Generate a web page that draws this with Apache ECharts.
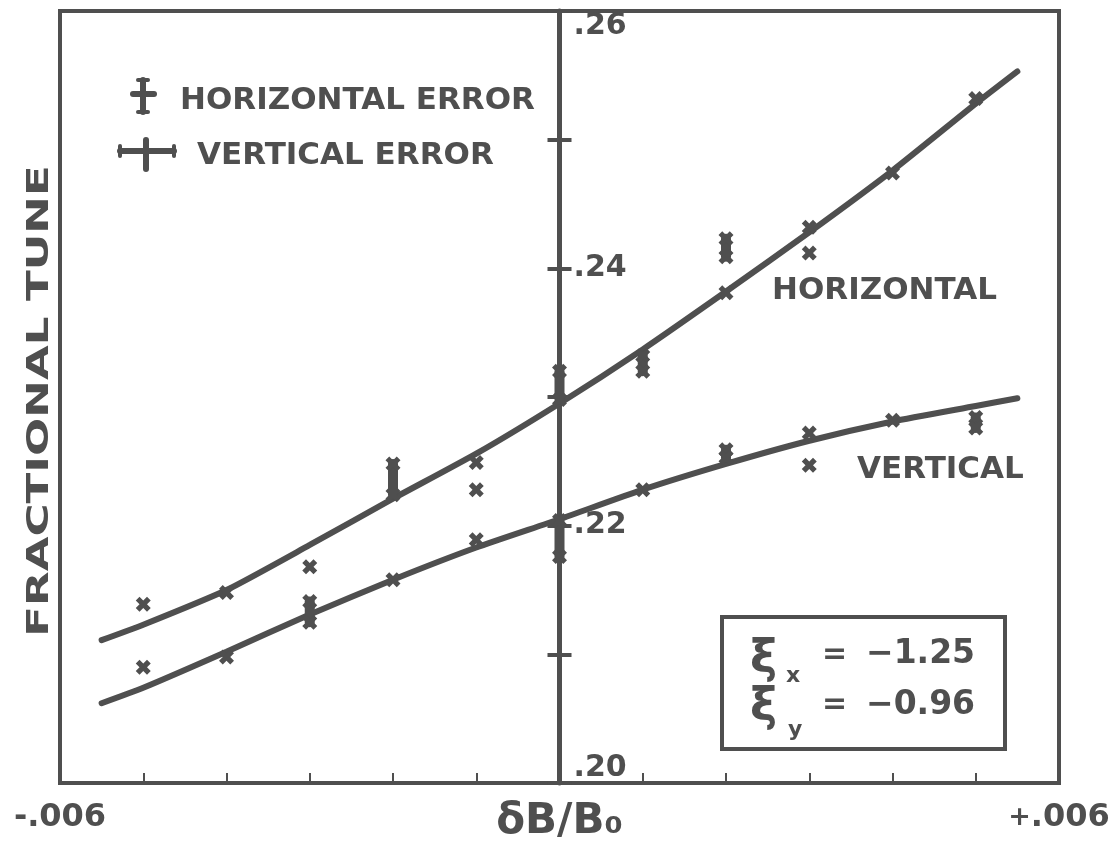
<!DOCTYPE html>
<html><head><meta charset="utf-8">
<script src="https://cdn.jsdelivr.net/npm/echarts@6/dist/echarts.min.js"></script>
<style>html,body{margin:0;padding:0;background:#fff}#c{width:1111px;height:859px}</style>
</head><body><div id="c"></div>
<script>
// ---- data ----
const fitX = [-0.0055,-0.005,-0.004,-0.003,-0.002,-0.001,0,0.001,0.002,0.003,0.004,0.005,0.0055];
const horizFit = [0.2111,0.2123,0.2150,0.2185,0.2221,0.2256,0.2295,0.2337,0.2382,0.2428,0.2476,0.2528,0.2553];
const vertFit  = [0.2062,0.2074,0.2102,0.2131,0.2158,0.2183,0.2205,0.2228,0.2248,0.2266,0.2281,0.2293,0.2299];

const horizX   = [-0.005,-0.004,-0.003,-0.002,-0.001,-0.001,0,0.001,0.002,0.002,0.003,0.003,0.004,0.005];
const horizY   = [0.2139,0.2148,0.2168,0.2236,0.2249,0.2228,0.2309,0.2326,0.2381,0.2416,0.2432,0.2412,0.2474,0.2532];
const horizErr = [0,0,0,0.0012,0,0,0.0011,0.0006,0,0.0007,0,0,0,0];

const vertX    = [-0.005,-0.004,-0.003,-0.002,-0.001,0,0.001,0.002,0.003,0.003,0.004,0.005];
const vertY    = [0.2090,0.2098,0.2133,0.2158,0.2189,0.2190,0.2228,0.2256,0.2272,0.2247,0.2282,0.2280];
const vertErr  = [0,0,0.0008,0,0,0.0014,0,0.0003,0,0,0,0.0004];

const yTickValues = [0.20,0.22,0.24,0.26];
const yTickLabels = ['.20','.22','.24','.26'];
const xEndLabels  = ['-.006','+.006'];
const xMin = -0.006, xMax = 0.006, yMin = 0.20, yMax = 0.26;
const chromaLabels = ['−1.25','−0.96'];

// ---- styles ----
const INK = '#4f4f4f';
const XPATH = 'M0,3 L3,0 L6,3 L9,0 L12,3 L9,6 L12,9 L9,12 L6,9 L3,12 L0,9 L3,6 Z';
const GRID = {left:60, right:52, top:11, bottom:76};
const centerOffset = -(1111 - GRID.left - GRID.right) / 2;

function zip(xs, ys){ return xs.map((x,i)=>[x, ys[i]]); }
function zip3(xs, ys, es){ return xs.map((x,i)=>[x, ys[i], es[i]]); }

function renderPoint(params, api){
  const x = api.value(0), y = api.value(1), e = api.value(2);
  const s = 15;
  const mk = (p) => ({type:'path', shape:{pathData:XPATH, x:p[0]-s/2, y:p[1]-s/2, width:s, height:s}, style:{fill:INK}});
  if (e > 0) {
    const a = api.coord([x, y+e]), b = api.coord([x, y-e]);
    return {type:'group', children:[
      {type:'line', shape:{x1:a[0], y1:a[1], x2:b[0], y2:b[1]}, style:{stroke:INK, lineWidth:10, lineCap:'round'}},
      mk(a), mk(b)
    ]};
  }
  return mk(api.coord([x, y]));
}

const chart = echarts.init(document.getElementById('c'));
const lbl = 'bold 31px "DejaVu Sans"';
chart.setOption({
  backgroundColor:'#fff',
  animation:false,
  grid:Object.assign({show:true, borderColor:INK, borderWidth:4, backgroundColor:'transparent', outerBoundsMode:'none', containLabel:false}, GRID),
  xAxis:{
    type:'value', min:xMin, max:xMax, interval:0.001,
    axisLine:{onZero:false, lineStyle:{color:INK, width:4}},
    axisTick:{inside:true, length:10, lineStyle:{color:INK, width:2}},
    splitLine:{show:false},
    axisLabel:{
      showMinLabel:true, showMaxLabel:true, margin:19, color:INK,
      fontFamily:'DejaVu Sans', fontWeight:'bold', fontSize:32,
      rich:{s:{fontFamily:'DejaVu Sans', fontWeight:'bold', fontSize:27, color:INK}},
      formatter:(v)=> Math.abs(v-xMin)<1e-9 ? xEndLabels[0]
                   : (Math.abs(v-xMax)<1e-9 ? '{s|' + xEndLabels[1].charAt(0) + '}' + xEndLabels[1].slice(1) : '')
    },
    name:'δB/B₀', nameLocation:'middle', nameGap:18, nameMoveOverlap:false,
    nameTextStyle:{color:INK, fontFamily:'DejaVu Sans', fontWeight:'bold', fontSize:42, verticalAlign:'top'}
  },
  yAxis:[{
    type:'value', min:yMin, max:yMax, interval:0.01, position:'left', offset:centerOffset,
    axisLine:{onZero:false, lineStyle:{color:INK, width:5}},
    axisTick:{inside:true, length:12, lineStyle:{color:INK, width:4}},
    splitLine:{show:false},
    axisLabel:{
      inside:true, margin:14, color:INK, fontFamily:'DejaVu Sans', fontWeight:'bold', fontSize:30,
      verticalAlignMaxLabel:'top', verticalAlignMinLabel:'bottom',
      formatter:(v)=>{ const i = yTickValues.findIndex(t=>Math.abs(t-v)<1e-9); return i>=0 ? yTickLabels[i] : ''; }
    }
  },{
    type:'value', min:yMin, max:yMax, interval:0.01, position:'right', offset:centerOffset,
    axisLine:{show:false, onZero:false},
    axisTick:{inside:true, length:12, lineStyle:{color:INK, width:4}},
    axisLabel:{show:false}, splitLine:{show:false}
  }],
  series:[
    {type:'line', name:'horizontal fit', data:zip(fitX, horizFit), smooth:0.2, showSymbol:false,
     lineStyle:{color:INK, width:6, cap:'round'}, z:3},
    {type:'line', name:'vertical fit', data:zip(fitX, vertFit), smooth:0.2, showSymbol:false,
     lineStyle:{color:INK, width:6, cap:'round'}, z:3},
    {type:'custom', name:'horizontal', data:zip3(horizX, horizY, horizErr), renderItem:renderPoint, z:4},
    {type:'custom', name:'vertical', data:zip3(vertX, vertY, vertErr), renderItem:renderPoint, z:4}
  ],
  graphic:[
    {type:'text', x:40, y:401, rotation:Math.PI/2, scaleX:1.5,
     style:{text:'FRACTIONAL TUNE', font:'bold 30px "DejaVu Sans"', fill:INK, align:'center', verticalAlign:'middle'}},
    // legend symbol 1 (tall cross)
    {type:'line', shape:{x1:143,y1:80,x2:143,y2:112}, style:{stroke:INK,lineWidth:6,lineCap:'round'}},
    {type:'line', shape:{x1:133,y1:94,x2:154,y2:94}, style:{stroke:INK,lineWidth:6,lineCap:'round'}},
    {type:'line', shape:{x1:138,y1:80,x2:148,y2:80}, style:{stroke:INK,lineWidth:4,lineCap:'round'}},
    {type:'line', shape:{x1:138,y1:112,x2:148,y2:112}, style:{stroke:INK,lineWidth:4,lineCap:'round'}},
    // legend symbol 2 (wide cross)
    {type:'line', shape:{x1:120,y1:151,x2:174,y2:151}, style:{stroke:INK,lineWidth:6,lineCap:'round'}},
    {type:'line', shape:{x1:146,y1:140,x2:146,y2:169}, style:{stroke:INK,lineWidth:6,lineCap:'round'}},
    {type:'line', shape:{x1:120,y1:146,x2:120,y2:156}, style:{stroke:INK,lineWidth:4,lineCap:'round'}},
    {type:'line', shape:{x1:174,y1:146,x2:174,y2:156}, style:{stroke:INK,lineWidth:4,lineCap:'round'}},
    {type:'text', x:180, y:101, style:{text:'HORIZONTAL ERROR', font:lbl, fill:INK, verticalAlign:'middle'}},
    {type:'text', x:197, y:156, style:{text:'VERTICAL ERROR', font:lbl, fill:INK, verticalAlign:'middle'}},
    {type:'text', x:772, y:291, style:{text:'HORIZONTAL', font:lbl, fill:INK, verticalAlign:'middle'}},
    {type:'text', x:857, y:470, style:{text:'VERTICAL', font:lbl, fill:INK, verticalAlign:'middle'}},
    // chromaticity box
    {type:'rect', shape:{x:722,y:617,width:283,height:132}, style:{stroke:INK,lineWidth:4,fill:'#fff'}, z:10},
    {type:'text', x:750, y:660, z:11, style:{text:'ξ', font:'bold 46px "DejaVu Sans"', fill:INK, verticalAlign:'middle'}},
    {type:'text', x:786, y:676, z:11, style:{text:'x', font:'bold 22px "DejaVu Sans"', fill:INK, verticalAlign:'middle'}},
    {type:'text', x:822, y:655, z:11, style:{text:'=', font:'bold 30px "DejaVu Sans"', fill:INK, verticalAlign:'middle'}},
    {type:'text', x:866, y:654, z:11, style:{text:chromaLabels[0], font:'bold 33px "DejaVu Sans"', fill:INK, verticalAlign:'middle'}},
    {type:'text', x:750, y:708, z:11, style:{text:'ξ', font:'bold 46px "DejaVu Sans"', fill:INK, verticalAlign:'middle'}},
    {type:'text', x:788, y:730, z:11, style:{text:'y', font:'bold 22px "DejaVu Sans"', fill:INK, verticalAlign:'middle'}},
    {type:'text', x:822, y:705, z:11, style:{text:'=', font:'bold 30px "DejaVu Sans"', fill:INK, verticalAlign:'middle'}},
    {type:'text', x:866, y:705, z:11, style:{text:chromaLabels[1], font:'bold 33px "DejaVu Sans"', fill:INK, verticalAlign:'middle'}}
  ]
});
</script></body></html>
